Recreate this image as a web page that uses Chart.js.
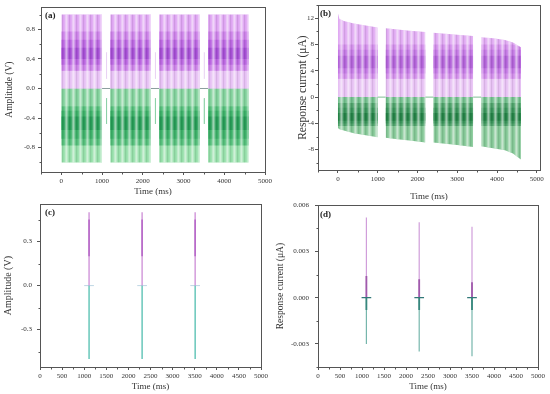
<!DOCTYPE html>
<html><head><meta charset="utf-8">
<script src="https://cdn.jsdelivr.net/npm/chart.js@4"></script>
<style>
html,body{margin:0;padding:0;background:#fff;width:550px;height:394px;overflow:hidden;}
canvas{position:absolute;}
</style></head><body>
<canvas id="ca" width="275" height="205" style="left:0;top:0"></canvas>
<canvas id="cb" width="275" height="205" style="left:275px;top:0"></canvas>
<canvas id="cc" width="275" height="199" style="left:0;top:195px"></canvas>
<canvas id="cd" width="275" height="199" style="left:275px;top:195px"></canvas>
<script>
// ---------------- DATA ----------------
// Panel (a): excitation bursts (envelope per burst)
const envXA = [[0,1000],[1200,2200],[2400,3400],[3600,4600]];
const topA  = [[1.0,1.0],[1.0,1.0],[1.0,1.0],[1.0,1.0]];
const botA  = [[-1.0,-1.0],[-1.0,-1.0],[-1.0,-1.0],[-1.0,-1.0]];
const posBandsA = [[0,0.24],[0.24,0.77],[0.32,0.66],[0.4,0.55]];
const negBandsA = [[-0.24,0],[-0.77,-0.24],[-0.68,-0.3],[-0.56,-0.38]];
const gapStartA = [1000,2200,3400];
const gapEndA   = [1200,2400,3600];
const gapSpikeXA = [1110,2310,3510];
const gapSpikeTopA = [[0.13,0.49],[0.13,0.49],[0.13,0.49]];
const gapSpikeBotA = [[-0.13,-0.48],[-0.13,-0.48],[-0.13,-0.48]];
const xTicksAB = [0,1000,2000,3000,4000,5000];
const yTicksA = [-0.8,-0.4,0,0.4,0.8];

// Panel (b): response current envelopes
const envXB = [[0,40,150,400,700,1000],[1200,1500,1800,2200],[2400,2700,3000,3400],[3600,3900,4200,4400,4600]];
const topB  = [[12.8,11.9,11.6,11.2,10.9,10.6],[10.5,10.3,10.1,9.9],[9.8,9.65,9.5,9.3],[9.1,8.95,8.7,8.3,7.6]];
const botB  = [[-4.7,-4.9,-5.1,-5.5,-5.8,-6.1],[-6.2,-6.4,-6.6,-6.9],[-6.9,-7.1,-7.3,-7.6],[-7.5,-7.8,-8.1,-8.6,-9.5]];
const posBandsB = [[0,2.8],[2.8,8.0],[3.6,7.2],[4.4,6.3]];
const negBandsB = [[-0.9,0],[-4.4,-0.9],[-4.0,-1.6],[-3.6,-2.4]];
const gapStartB = [1000,2200,3400];
const gapEndB   = [1200,2400,3600];
const yTicksB = [-8,-4,0,4,8,12];

// Panel (c): amplitude spikes
const spikeXC = [1110,2310,3510];
const spikeTopC = [0.5,0.5,0.5];
const spikeBotC = [-0.5,-0.5,-0.5];
const denseTopC = [[0.2,0.45],[0.2,0.45],[0.2,0.45]];
const zeroStartC = [1000,2200,3400];
const zeroEndC   = [1220,2420,3620];
const xTicksCD = [0,500,1000,1500,2000,2500,3000,3500,4000,4500,5000];
const yTicksC = [-0.3,0,0.3];

// Panel (d): response current spikes
const spikeXD = [1100,2300,3500];
const spikeTopD = [0.0052,0.0049,0.0046];
const spikeBotD = [-0.0030,-0.0035,-0.0038];
const denseTopD = [0.0014,0.0012,0.0010];
const denseBotD = [-0.0008,-0.0008,-0.0008];
const zeroStartD = [990,2190,3390];
const zeroEndD   = [1210,2410,3610];
const yTicksD = [-0.003,0,0.003,0.006];

// ---------------- STYLE ----------------
const FONT = 'Liberation Serif';
const TXT = '#333';
const AX = '#555';
const colA = {outerP:'rgb(222,164,242)', bandsP:['rgb(230,192,244)','rgb(204,130,232)','rgb(186,102,224)','rgb(165,78,212)'],
              outerG:'rgb(148,222,168)', bandsG:['rgb(128,208,154)','rgb(84,190,122)','rgb(60,176,104)','rgb(38,156,86)']};
const colB = {outerP:'rgb(224,170,242)', bandsP:['rgb(230,192,243)','rgb(210,142,234)','rgb(196,122,228)','rgb(178,98,216)'],
              outerG:'rgb(130,198,148)', bandsG:['rgb(114,190,140)','rgb(78,162,106)','rgb(58,148,90)','rgb(36,130,70)']};

function makeStripe(canvasId){
  const pc = document.createElement('canvas');
  const alphas = [0,0.12,0.38,0.55,0.35,0.1,0];
  pc.width = alphas.length; pc.height = 1;
  const p = pc.getContext('2d');
  alphas.forEach((a,i)=>{ p.fillStyle = 'rgba(255,255,255,'+a+')'; p.fillRect(i,0,1,1); });
  p.fillStyle = 'rgba(0,0,0,0.07)'; p.fillRect(alphas.length-1,0,1,1);
  return document.getElementById(canvasId).getContext('2d').createPattern(pc,'repeat');
}

function fillDs(pts, val, color, order){
  return {data: pts, fill:{value: val}, backgroundColor: color, borderWidth:0, borderColor:'rgba(0,0,0,0)', pointRadius:0, order, tension:0};
}
function lineDs(pts, color, width, order){
  return {data: pts, fill:false, borderColor: color, borderWidth: width, pointRadius:0, order, tension:0};
}

function buildWave(envX, top, bot, posBands, negBands, col, pattern){
  const ds = [];
  envX.forEach((xs, i)=>{
    ds.push(fillDs(xs.map((x,j)=>({x, y: top[i][j]})), 0, col.outerP, 20));
    posBands.forEach((b,k)=>{
      ds.push(fillDs(xs.map((x,j)=>({x, y: Math.min(b[1], top[i][j])})), b[0], col.bandsP[k], 19-k));
    });
    ds.push(fillDs(xs.map((x,j)=>({x, y: bot[i][j]})), 0, col.outerG, 20));
    negBands.forEach((b,k)=>{
      ds.push(fillDs(xs.map((x,j)=>({x, y: Math.max(b[0], bot[i][j])})), b[1], col.bandsG[k], 19-k));
    });
    ds.push(fillDs(xs.map((x,j)=>({x, y: top[i][j]})), 0, pattern, 5));
    ds.push(fillDs(xs.map((x,j)=>({x, y: bot[i][j]})), 0, pattern, 5));
  });
  return ds;
}

const framePlugin = {
  id:'frame',
  afterDraw(chart, args, opts){
    const {ctx, chartArea:a, scales} = chart;
    ctx.save();
    ctx.strokeStyle = AX; ctx.lineWidth = 1;
    const L = Math.round(a.left)+0.5, T = Math.round(a.top)+0.5;
    ctx.strokeRect(L, T, Math.round(a.right)-Math.round(a.left), Math.round(a.bottom)-Math.round(a.top));
    const minorVals = (s)=>{
      const t = s.ticks.map(k=>k.value).sort((p,q)=>p-q);
      const step = t[1]-t[0], out=[];
      for(let v=t[0]-step/2; v>=s.min-1e-12; v-=step) out.push(v);
      for(let v=t[0]+step/2; v<=s.max+1e-12; v+=step) out.push(v);
      return out;
    };
    ctx.beginPath();
    minorVals(scales.x).forEach(v=>{ const px=Math.round(scales.x.getPixelForValue(v))+0.5; ctx.moveTo(px, Math.round(a.bottom)+0.5); ctx.lineTo(px, Math.round(a.bottom)+2.5); });
    minorVals(scales.y).forEach(v=>{ const py=Math.round(scales.y.getPixelForValue(v))+0.5; ctx.moveTo(Math.round(a.left)+0.5, py); ctx.lineTo(Math.round(a.left)-1.5, py); });
    ctx.stroke();
    ctx.fillStyle = '#222';
    ctx.font = 'bold 9px "'+FONT+'"';
    ctx.textBaseline = 'middle';
    ctx.fillText(opts.label, a.left + opts.dx, a.top + opts.dy);
    ctx.restore();
  }
};

function makeChart(id, datasets, cfg){
  const font = (s)=>({family: FONT, size: s});
  new Chart(document.getElementById(id), {
    type:'line',
    data:{datasets},
    plugins:[framePlugin],
    options:{
      responsive:false, animation:false, devicePixelRatio:1,
      layout:{padding:{left:0, right:cfg.padR, top:cfg.padT, bottom:0}},
      plugins:{legend:{display:false}, tooltip:{enabled:false}, frame:{label:cfg.label, dx:cfg.ldx, dy:cfg.ldy}},
      scales:{
        x:{type:'linear', min:cfg.xmin, max:cfg.xmax,
           afterBuildTicks:(s)=>{ s.ticks = cfg.xTicks.map(v=>({value:v})); },
           afterFit:(s)=>{ s.height = cfg.xH; },
           ticks:{font:font(7), color:TXT, padding:2, maxRotation:0, autoSkip:false, callback:(v)=>String(v)},
           grid:{display:true, drawOnChartArea:false, drawTicks:true, tickLength:3, color:AX, tickColor:AX},
           border:{display:false},
           title:{display:true, text:'Time (ms)', font:font(cfg.xtFont), color:TXT, padding:{top:0,bottom:cfg.xtPad}}},
        y:{type:'linear', min:cfg.ymin, max:cfg.ymax,
           afterBuildTicks:(s)=>{ s.ticks = cfg.yTicks.map(v=>({value:v})); },
           afterFit:(s)=>{ s.width = cfg.yW; },
           ticks:{font:font(7), color:TXT, padding:cfg.ytickPad, autoSkip:false, callback:(v)=>Number(v).toFixed(cfg.dec)},
           grid:{display:true, drawOnChartArea:false, drawTicks:true, tickLength:3, color:AX, tickColor:AX},
           border:{display:false},
           title:{display:true, text:cfg.ytitle, font:font(cfg.ytFont), color:TXT, padding:{top:cfg.ytPad,bottom:0}}}
      }
    }
  });
}

// ---- Panel (a)
const patA = makeStripe('ca');
const dsA = buildWave(envXA, topA, botA, posBandsA, negBandsA, colA, patA);
gapStartA.forEach((s,i)=>{ dsA.push(lineDs([{x:s,y:0},{x:gapEndA[i],y:0}], 'rgb(140,158,158)', 1, 1)); });
gapSpikeXA.forEach((x,i)=>{
  dsA.push(lineDs(gapSpikeTopA[i].map(y=>({x,y})), 'rgba(190,120,220,0.35)', 1, 1));
  dsA.push(lineDs(gapSpikeBotA[i].map(y=>({x,y})), 'rgba(90,190,130,0.35)', 1, 1));
});
makeChart('ca', dsA, {label:'(a)', ldx:4, ldy:8, padR:10, padT:4, xmin:-500, xmax:5000, xTicks:xTicksAB, xH:33, xtFont:9, xtPad:7.6,
  ymin:-1.13, ymax:1.1, yTicks:yTicksA, yW:41, ytickPad:3, dec:1, ytitle:'Amplitude (V)', ytFont:9.5, ytPad:4});

// ---- Panel (b)
const patB = makeStripe('cb');
const dsB = buildWave(envXB, topB, botB, posBandsB, negBandsB, colB, patB);
gapStartB.forEach((s,i)=>{ dsB.push(lineDs([{x:s,y:0},{x:gapEndB[i],y:0}], 'rgb(130,190,150)', 1, 1)); });
makeChart('cb', dsB, {label:'(b)', ldx:2, ldy:8, padR:10, padT:4, xmin:-500, xmax:5080, xTicks:xTicksAB, xH:35, xtFont:9, xtPad:2.6,
  ymin:-11.1, ymax:14.0, yTicks:yTicksB, yW:43, ytickPad:1, dec:0, ytitle:'Response current (μA)', ytFont:11.5, ytPad:21});

// ---- Panel (c)
const dsC = [];
spikeXC.forEach((x,i)=>{
  dsC.push(lineDs([{x:zeroStartC[i],y:0},{x:zeroEndC[i],y:0}], 'rgb(190,215,228)', 1, 3));
  dsC.push(lineDs([{x,y:0},{x,y:spikeTopC[i]}], 'rgb(205,140,214)', 1.3, 2));
  dsC.push(lineDs(denseTopC[i].map(y=>({x,y})), 'rgb(180,100,198)', 1.5, 1));
  dsC.push(lineDs([{x,y:0},{x,y:spikeBotC[i]}], 'rgb(80,190,175)', 1.3, 2));
});
makeChart('cc', dsC, {label:'(c)', ldx:5, ldy:8, padR:14, padT:5, xmin:0, xmax:5000, xTicks:xTicksCD, xH:27, xtFont:9, xtPad:1.6,
  ymin:-0.555, ymax:0.555, yTicks:yTicksC, yW:40, ytickPad:5, dec:1, ytitle:'Amplitude (V)', ytFont:10, ytPad:2});

// ---- Panel (d)
const dsD = [];
spikeXD.forEach((x,i)=>{
  dsD.push(lineDs([{x,y:0},{x,y:spikeTopD[i]}], 'rgb(208,158,218)', 1.2, 3));
  dsD.push(lineDs([{x,y:0},{x,y:denseTopD[i]}], 'rgb(160,90,172)', 1.8, 2));
  dsD.push(lineDs([{x,y:0},{x,y:spikeBotD[i]}], 'rgb(118,182,172)', 1.2, 3));
  dsD.push(lineDs([{x,y:0},{x,y:denseBotD[i]}], 'rgb(55,135,125)', 1.8, 2));
  dsD.push(lineDs([{x:zeroStartD[i],y:0},{x:zeroEndD[i],y:0}], 'rgb(50,120,120)', 1.3, 1));
});
makeChart('cd', dsD, {label:'(d)', ldx:2, ldy:9, padR:12, padT:7, xmin:0, xmax:5000, xTicks:xTicksCD, xH:27, xtFont:9, xtPad:1.9,
  ymin:-0.0045, ymax:0.006, yTicks:yTicksD, yW:43, ytickPad:6, dec:3, ytitle:'Response current (μA)', ytFont:9.5, ytPad:0});
</script>
</body></html>
